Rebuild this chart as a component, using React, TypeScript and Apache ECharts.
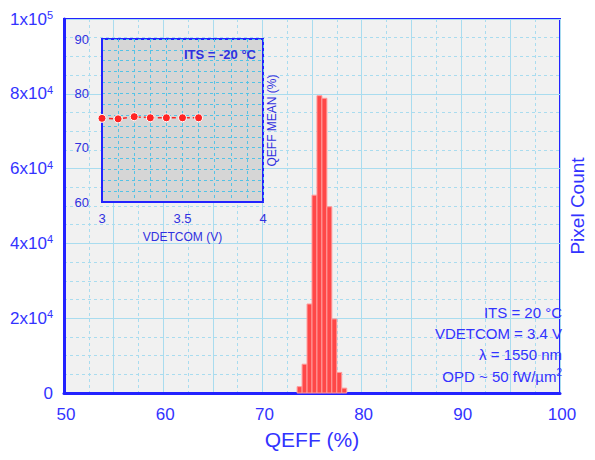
import React, { useEffect, useRef } from "react";
import * as echarts from "echarts";

// Main histogram: QEFF bin centers (%) and pixel counts
const binCenters = [73.75, 74.25, 74.75, 75.25, 75.75, 76.25, 76.75, 77.25, 77.75, 78.25];
const binWidth = 0.5;
const pixelCounts = [1700, 7700, 23800, 52900, 79500, 78800, 49800, 19800, 5500, 1300];

// Inset: QEFF mean vs VDETCOM
const vdetcom = [3.0, 3.1, 3.2, 3.3, 3.4, 3.5, 3.6];
const qeffMean = [75.4, 75.3, 75.7, 75.5, 75.5, 75.5, 75.5];

// Axis ranges
const mainX = { min: 50, max: 100 };
const mainY = { min: 0, max: 100000 };
const insetX = { min: 3, max: 4 };
const insetY = { min: 60, max: 90 };

// Annotation lines
const notes = ["ITS = 20 °C", "VDETCOM = 3.4 V", "λ = 1550 nm"];
const insetTitle = "ITS = -20 °C";

const BLUE = "#3333ff";
const FRAME = "#2222ff";
const GRID = "#a9dcef";
const INSET_BLUE = "#3030e0";
const INSET_GRID = "#55c3e6";
const FONT = "Liberation Sans, Arial, sans-serif";

export default function App() {
  const ref = useRef<HTMLDivElement>(null);
  useEffect(() => {
    if (!ref.current) return;
    document.body.style.margin = "0";
    document.body.style.overflow = "hidden";
    const chart = echarts.init(ref.current, undefined, { renderer: "svg", width: 595, height: 460 });
    const histData = binCenters.map((c, i) => [c, pixelCounts[i]]);
    const insetData = vdetcom.map((v, i) => [v, qeffMean[i]]);

    const yFmt = (v: number) => {
      if (v === 0) return "{b|0}";
      const e = Math.floor(Math.log10(v) + 1e-9);
      const m = Math.round(v / Math.pow(10, e));
      return `{b|${m}x10}{s|${e}}`;
    };

    chart.setOption({
      animation: false,
      textStyle: { fontFamily: FONT },
      grid: [
        {
          left: 64, right: 28, top: 19, bottom: 67,
          show: true, backgroundColor: "#f1f1f1",
          borderColor: FRAME, borderWidth: 2, z: 0,
        },
        {
          left: 102, right: 332, top: 39, bottom: 258,
          show: true, backgroundColor: "#d6d6d6",
          borderColor: FRAME, borderWidth: 2, z: 3,
        },
      ],
      xAxis: [
        {
          type: "value", gridIndex: 0, min: mainX.min, max: mainX.max, interval: 5,
          axisLine: { show: true, onZero: false, lineStyle: { color: FRAME, width: 3 } },
          axisTick: { show: false },
          axisLabel: {
            color: BLUE, fontSize: 17, margin: 13, fontFamily: FONT,
            padding: [0, 0, 0, 4],
            formatter: (v: number) => (v % 10 === 0 ? String(v) : ""),
          },
          splitLine: { show: true, lineStyle: { color: GRID, width: 1 } },
          minorTick: { show: false, splitNumber: 2 },
          minorSplitLine: { show: true, lineStyle: { color: GRID, type: [3, 3], width: 1 } },
          name: "QEFF (%)", nameLocation: "middle", nameGap: 36,
          nameTextStyle: { color: BLUE, fontSize: 21, fontFamily: FONT },
        },
        {
          type: "value", gridIndex: 1, min: insetX.min, max: insetX.max, interval: 0.5,
          axisLine: { show: true, onZero: false, lineStyle: { color: FRAME, width: 2 } },
          axisTick: { show: false },
          axisLabel: { color: INSET_BLUE, fontSize: 13, margin: 10, fontFamily: FONT },
          splitLine: { show: true, lineStyle: { color: INSET_GRID, type: [3, 3], width: 1 } },
          minorTick: { show: false, splitNumber: 5 },
          minorSplitLine: { show: true, lineStyle: { color: INSET_GRID, type: [3, 3], width: 1 } },
          name: "VDETCOM (V)", nameLocation: "middle", nameGap: 29,
          nameTextStyle: { color: INSET_BLUE, fontSize: 12, fontFamily: FONT },
          z: 4,
        },
      ],
      yAxis: [
        {
          type: "value", gridIndex: 0, min: mainY.min, max: mainY.max, interval: 20000,
          axisLine: { show: true, onZero: false, lineStyle: { color: FRAME, width: 3 } },
          axisTick: { show: false },
          axisLabel: {
            margin: 11, formatter: yFmt,
            rich: {
              b: { color: BLUE, fontSize: 17, fontFamily: FONT },
              s: { color: BLUE, fontSize: 11, fontFamily: FONT, padding: [0, 0, 8, 0] },
            },
          },
          splitLine: { show: true, lineStyle: { color: GRID, width: 1 } },
          minorTick: { show: false, splitNumber: 4 },
          minorSplitLine: { show: true, lineStyle: { color: GRID, type: [3, 3], width: 1 } },
        },
        {
          type: "value", gridIndex: 0, position: "right", min: mainY.min, max: mainY.max,
          axisLine: { show: false }, axisTick: { show: false }, axisLabel: { show: false },
          splitLine: { show: false },
          name: "Pixel Count", nameLocation: "middle", nameRotate: 90, nameGap: 8,
          nameTextStyle: { color: BLUE, fontSize: 19, fontFamily: FONT },
        },
        {
          type: "value", gridIndex: 1, min: insetY.min, max: insetY.max, interval: 10,
          axisLine: { show: true, onZero: false, lineStyle: { color: FRAME, width: 2 } },
          axisTick: { show: false },
          axisLabel: { color: INSET_BLUE, fontSize: 13, margin: 13, fontFamily: FONT },
          splitLine: { show: true, lineStyle: { color: INSET_GRID, type: [3, 3], width: 1 } },
          minorTick: { show: false, splitNumber: 5 },
          minorSplitLine: { show: true, lineStyle: { color: INSET_GRID, type: [3, 3], width: 1 } },
          z: 4,
        },
        {
          type: "value", gridIndex: 1, position: "right", min: insetY.min, max: insetY.max,
          axisLine: { show: false }, axisTick: { show: false }, axisLabel: { show: false },
          splitLine: { show: false },
          name: "QEFF MEAN (%)", nameLocation: "middle", nameRotate: 90, nameGap: 3,
          nameTextStyle: { color: INSET_BLUE, fontSize: 12, fontFamily: FONT },
          z: 4,
        },
      ],
      series: [
        {
          type: "custom", xAxisIndex: 0, yAxisIndex: 0, z: 2,
          data: histData,
          renderItem: (_params: any, api: any) => {
            const x = api.value(0);
            const c = api.value(1);
            const p0 = api.coord([x - binWidth / 2, c]);
            const p1 = api.coord([x + binWidth / 2, 0]);
            return {
              type: "rect",
              shape: { x: p0[0], y: p0[1], width: p1[0] - p0[0], height: p1[1] - p0[1] },
              style: { fill: "#ff4848", stroke: "#ff9c9c", lineWidth: 1 },
            };
          },
        },
        {
          type: "line", xAxisIndex: 1, yAxisIndex: 2, z: 6,
          data: insetData,
          symbol: "circle", symbolSize: 8,
          itemStyle: { color: "#ff2424", borderColor: "#ffffff", borderWidth: 1 },
          lineStyle: { color: "#ff2424", type: [4, 3], width: 1.5 },
        },
      ],
      graphic: [
        {
          type: "text", x: 256, y: 54, z: 100,
          style: {
            text: insetTitle, fill: INSET_BLUE, font: `bold 13px ${FONT}`,
            textAlign: "right", textVerticalAlign: "middle",
          },
        },
        ...notes.map((t, i) => ({
          type: "text", x: 562, y: 312 + i * 21.3, z: 100,
          style: {
            text: t, fill: BLUE, font: `15px ${FONT}`,
            textAlign: "right", textVerticalAlign: "middle",
          },
        })),
        {
          type: "text", x: 562, y: 376, z: 100,
          style: {
            text: "OPD ~ 50 fW/µm{s|2}", fill: BLUE, font: `15px ${FONT}`,
            textAlign: "right", textVerticalAlign: "middle",
            rich: { s: { fontSize: 10, fill: BLUE, fontFamily: FONT, padding: [0, 0, 7, 0] } },
          },
        },
      ],
    });
    return () => chart.dispose();
  }, []);
  return <div ref={ref} style={{ width: 595, height: 460, position: "absolute", left: 0, top: 0, overflow: "hidden" }} />;
}
